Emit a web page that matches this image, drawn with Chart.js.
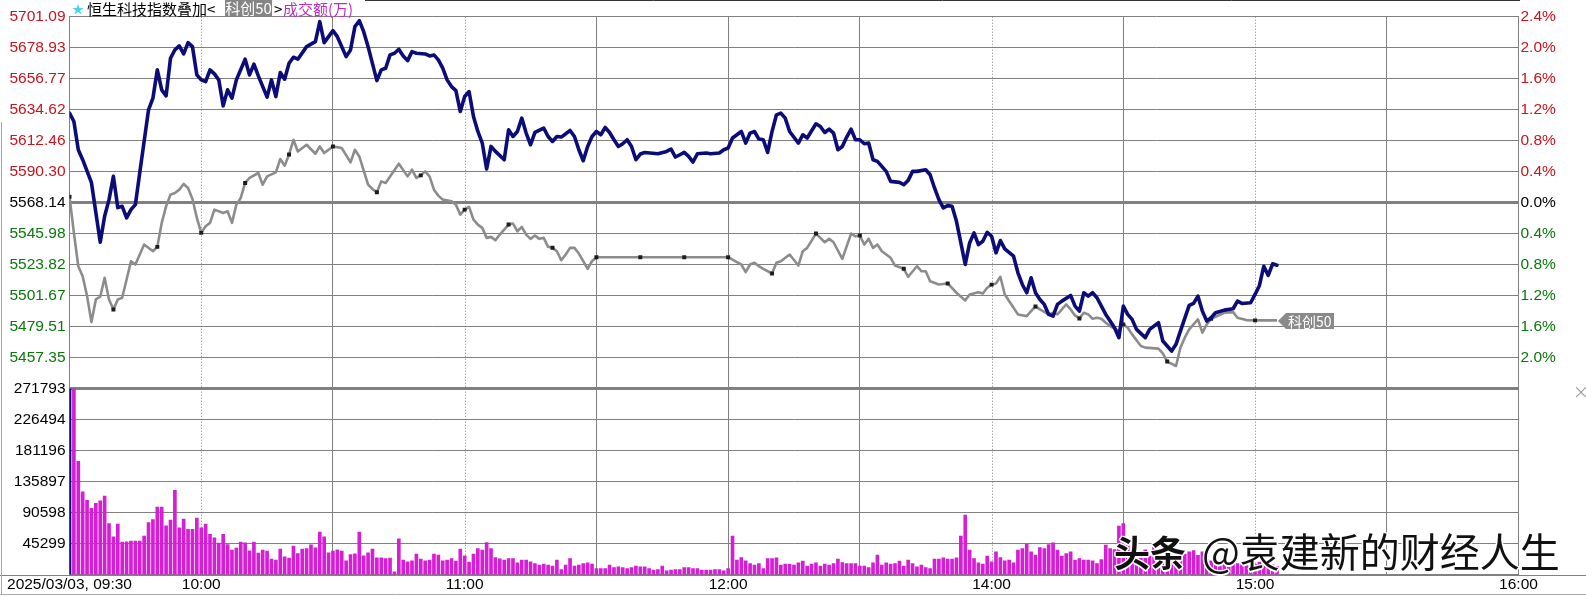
<!DOCTYPE html>
<html><head><meta charset="utf-8">
<script src="https://cdn.jsdelivr.net/npm/chart.js"></script>
<style>
html,body{margin:0;padding:0;background:#fff;}
#wrap{position:relative;width:1586px;height:596px;overflow:hidden;background:#fff;}
#c{position:absolute;left:0;top:0;}
.t{position:absolute;top:0;height:17px;line-height:17px;font-family:"Noto Sans CJK SC",sans-serif;font-size:15px;white-space:nowrap;color:#000;}
#wm{position:absolute;left:1114px;top:530px;font-family:"Noto Sans CJK SC",sans-serif;color:#111;white-space:nowrap;line-height:1;
 text-shadow:-1px -1px 0 #fff,1px -1px 0 #fff,-1px 1px 0 #fff,1px 1px 0 #fff,0 -1.5px 0 #fff,0 1.5px 0 #fff,-1.5px 0 0 #fff,1.5px 0 0 #fff;}
</style></head><body>
<div id="wrap">
<canvas id="c" width="1586" height="596"></canvas>
<div class="t" style="left:72px;font-size:12px;color:#48d4e4;">★</div>
<div class="t" style="left:87px;">恒生科技指数叠加&lt;</div>
<div class="t" style="left:225px;width:47px;height:16px;line-height:16px;background:#858585;color:#fff;text-align:center;">科创50</div>
<div class="t" style="left:274px;">&gt;</div>
<div class="t" style="left:283px;color:#c22cc2;">成交额(万)</div>
<div class="t" style="left:1573px;top:383px;color:#999;font-size:16px;">×</div>
<div id="wm"><span style="font-size:36px;font-weight:700;">头条</span><span style="font-size:40px;margin-left:16px;">@袁建新的财经人生</span></div>
</div>
<script>
// ---- data ----
const priceTicks = [5701.09,5678.93,5656.77,5634.62,5612.46,5590.30,5568.14,5545.98,5523.82,5501.67,5479.51,5457.35];
const pctLabels  = ['2.4%','2.0%','1.6%','1.2%','0.8%','0.4%','0.0%','0.4%','0.8%','1.2%','1.6%','2.0%'];
const priceBase = 5568.14;
const priceBottom = 5435.19;
const priceStep = 22.1575;
const volTicks = [271793,226494,181196,135897,90598,45299];
const xTickValues = [0,30,60,90,120,150,180,210,240,270,300,330];
const xTickText = ['2025/03/03, 09:30','10:00','','11:00','','12:00','','14:00','','15:00','','16:00'];
const hourTicks = [30,90,210,270];

// 恒生科技 (minute index from 09:30, lunch removed)
const blueMin = [0,1,2,3,5,7,8,9,10,11,12,13,14,15,16,18,19,20,21,22,23,24,25,26,27,28,29,30,31,32,33,34,35,36,37,38,40,41,42,43,45,46,47,48,49,50,51,52,54,56,57,58,60,61,63,64,65,66,67,68,70,71,72,73,74,75,76,77,78,79,81,82,83,84,85,86,87,88,89,90,91,92,93,94,95,96,97,99,100,101,102,103,104,105,106,108,109,110,111,112,114,115,116,117,118,119,120,121,122,123,124,125,126,127,128,129,130,131,134,136,137,138,139,140,141,142,143,145,146,148,149,150,151,153,154,155,156,157,158,159,160,161,162,163,164,166,167,168,170,171,172,173,174,175,176,177,178,179,180,181,182,183,184,185,186,187,189,190,191,192,193,195,196,197,198,199,200,201,202,203,204,205,206,207,208,209,210,211,212,213,215,216,217,218,219,220,221,222,223,224,225,226,228,229,230,231,232,233,234,236,237,238,239,240,241,242,243,245,246,248,249,251,252,253,255,256,257,258,259,260,261,263,265,266,267,269,270,271,272,273,274,275];
const bluePx = [5632.15,5626.16,5605.96,5598.82,5582.41,5539.81,5558.36,5570.28,5586.91,5564.57,5565.50,5557.22,5563.14,5566.71,5589.55,5634.50,5642.85,5663.05,5648.78,5644.50,5671.40,5677.32,5680.18,5674.47,5682.53,5679.68,5659.48,5655.91,5654.70,5663.05,5660.19,5655.91,5637.36,5648.78,5642.85,5655.91,5670.68,5659.48,5667.12,5658.77,5643.57,5655.91,5644.00,5661.12,5656.41,5667.83,5672.11,5670.68,5679.68,5683.24,5697.52,5682.53,5691.09,5686.81,5672.54,5677.32,5693.95,5698.23,5690.38,5679.68,5655.41,5663.05,5664.26,5673.75,5674.96,5677.82,5673.04,5669.69,5676.11,5674.96,5674.47,5673.04,5673.75,5670.18,5664.26,5655.91,5651.13,5648.28,5633.29,5644.00,5647.56,5629.72,5619.02,5610.74,5592.19,5608.32,5604.75,5598.82,5620.23,5615.45,5619.02,5628.58,5617.88,5609.53,5618.31,5621.45,5615.45,5611.88,5615.45,5615.02,5619.73,5615.45,5605.96,5598.11,5608.32,5615.45,5619.02,5616.66,5621.87,5618.31,5613.10,5608.32,5610.24,5613.10,5608.32,5598.82,5602.89,5604.03,5603.11,5604.75,5606.46,5600.75,5602.39,5604.03,5601.18,5597.18,5603.11,5603.61,5603.11,5603.61,5605.96,5607.17,5614.31,5619.02,5610.74,5617.88,5619.02,5613.60,5613.10,5604.03,5619.02,5630.94,5632.15,5628.58,5619.02,5610.74,5616.66,5614.31,5624.51,5622.59,5618.31,5620.73,5617.88,5605.96,5608.32,5615.02,5620.73,5613.10,5613.10,5610.24,5610.74,5598.82,5597.61,5594.04,5590.48,5583.34,5582.63,5580.98,5584.05,5590.48,5590.48,5591.69,5588.12,5578.63,5570.28,5564.36,5566.00,5565.50,5554.80,5539.38,5523.90,5539.38,5546.52,5538.17,5540.52,5546.95,5544.09,5532.25,5541.02,5535.10,5529.82,5517.97,5509.62,5503.70,5514.41,5503.70,5498.92,5495.35,5488.22,5487.00,5495.35,5497.71,5501.78,5494.14,5490.57,5503.70,5501.28,5503.70,5500.13,5488.22,5483.44,5478.73,5471.59,5494.14,5488.22,5484.65,5477.51,5471.59,5477.51,5482.29,5469.16,5462.03,5466.81,5476.30,5494.64,5496.07,5501.28,5490.57,5483.44,5485.86,5489.43,5491.29,5492.28,5497.71,5496.07,5496.57,5502.49,5508.91,5522.68,5516.05,5524.40,5523.40];

// 科创50 (same minute index, on price axis)
const grayMin = [0,1,2,3,4,5,6,7,8,9,10,11,12,13,14,15,17,19,20,21,22,23,24,25,26,27,28,29,30,31,32,33,35,36,37,38,39,40,41,43,44,45,47,48,49,50,51,52,54,56,57,58,60,62,64,65,66,68,69,70,71,72,75,77,78,79,80,81,82,83,84,85,87,88,89,90,91,92,93,94,95,96,97,98,100,101,102,103,104,105,106,107,108,109,110,111,112,113,114,115,116,117,118,119,120,130,140,150,152,153,154,155,156,157,158,160,161,162,164,166,167,168,170,171,172,173,174,176,178,179,180,181,182,183,184,185,187,188,190,191,193,194,195,196,198,200,202,204,205,207,208,209,210,211,212,213,215,216,218,219,220,221,223,224,225,227,228,229,230,231,232,233,234,235,236,237,239,240,241,242,244,245,248,249,250,252,253,254,255,257,258,259,260,263,265,266,268,270,275];
const grayPx = [5572.42,5546.52,5522.68,5515.55,5501.28,5482.72,5498.92,5500.85,5514.41,5498.92,5491.78,5498.92,5500.13,5513.19,5526.25,5523.90,5538.17,5533.39,5536.50,5553.65,5565.50,5573.85,5575.06,5577.42,5581.48,5578.63,5570.78,5557.22,5546.52,5551.23,5553.65,5563.14,5560.79,5561.93,5553.65,5566.71,5571.49,5582.20,5585.77,5589.33,5580.98,5586.91,5589.76,5599.32,5594.54,5602.50,5613.10,5604.75,5609.53,5603.11,5608.32,5603.61,5608.32,5607.17,5596.90,5605.96,5601.18,5580.98,5577.92,5575.49,5583.34,5582.20,5595.97,5586.91,5591.69,5585.77,5587.62,5590.48,5586.91,5577.42,5573.14,5570.28,5569.07,5566.71,5559.58,5563.14,5565.07,5556.01,5552.44,5550.09,5542.95,5543.66,5541.24,5545.30,5552.44,5553.15,5547.66,5550.80,5545.30,5542.24,5544.59,5542.24,5542.95,5536.53,5535.81,5533.39,5526.97,5531.03,5535.81,5535.81,5531.75,5526.25,5520.83,5526.25,5529.11,5529.11,5529.11,5529.11,5525.54,5523.90,5518.40,5523.90,5525.11,5522.68,5520.83,5517.47,5525.11,5526.25,5531.03,5523.18,5533.39,5535.81,5546.02,5542.95,5539.81,5542.24,5539.81,5527.96,5546.02,5544.09,5544.59,5538.17,5542.24,5535.81,5538.17,5533.39,5528.68,5523.18,5520.83,5515.12,5522.68,5519.12,5519.12,5511.98,5509.62,5510.34,5503.70,5498.21,5502.49,5504.13,5503.20,5507.27,5509.50,5510.34,5515.12,5502.49,5493.00,5488.22,5487.00,5490.57,5493.93,5491.78,5488.22,5489.43,5488.22,5495.35,5491.78,5487.50,5485.36,5489.43,5488.22,5485.15,5485.86,5485.15,5482.29,5479.87,5476.30,5481.08,5478.73,5473.94,5465.60,5464.45,5463.74,5460.39,5454.50,5451.32,5464.45,5471.59,5477.51,5484.65,5475.16,5481.08,5485.15,5489.43,5489.86,5485.86,5484.15,5483.94,5483.94];

// 成交额(万), one bar per minute
const volume = [
271793,271793,165600,120800,108600,96900,104200,107600,114500,74500,
55000,73600,47300,47700,48700,48700,48700,56000,76000,80400,
98400,98400,71100,79400,123200,68200,80900,66200,66200,82300,
68200,73600,58900,53600,45800,58900,43800,35600,38500,47300,
46300,34600,47300,31200,35600,34100,22400,20900,37000,25800,
23900,41400,30700,37000,38000,43300,39000,61900,55000,31700,
34100,36000,34100,20000,29200,30200,61900,27300,31700,37000,
24400,24400,23400,24000,3900,52000,20900,18500,20000,29700,
22400,20000,20900,29700,28300,20000,20900,23400,19500,37000,
27300,18000,29700,38000,35600,46800,38000,24800,22900,20900,
23400,23400,17000,20900,20900,18500,16100,13600,15100,13600,
12200,20900,7300,13600,23400,12200,13600,16100,17000,15100,
8800,8800,8800,13600,10200,11200,10200,8800,10200,12200,
11200,11200,8800,6300,7300,12200,5400,6300,7300,7300,
10200,10200,8800,8800,6300,6300,6300,7300,7300,5400,
8800,56000,20900,24800,20000,16100,13600,16100,8800,23400,
23400,24400,13600,15100,15000,13600,17000,19500,12200,15100,
17000,12200,15100,13600,16100,22400,17500,16100,16100,16100,
12200,12200,10200,17000,28300,13600,17000,15100,16100,19500,
12200,20900,16100,11200,13600,10200,8800,22400,22400,24400,
22400,22400,24400,56000,86700,35600,23400,17000,15100,26800,
18500,33100,24800,20000,20900,17000,35600,38000,44300,33100,
28300,39500,38000,43800,46300,35600,26800,30700,33100,20900,
23400,20900,20900,20000,16100,21900,42900,38000,36500,70600,
74500,48000,30000,25000,28000,36000,27000,40000,30000,28000,
25000,22000,26000,23000,30000,33000,35000,28000,33000,22000,
20000,18000,17000,20000,18000,15000,16000,14000,15000,13000,
15000,18000,20000,16000,14000,12000];

// ---- chart ----
const NAVY = '#0c0c78', MAG = '#d41fd4', GRID = '#808080', RED = '#c8141e', GREEN = '#0a780a';
const tickFont = {family: 'Liberation Sans', size: 15.5};
const priceColor = v => v > priceBase + 0.001 ? RED : (v < priceBase - 0.001 ? GREEN : '#000');

const decor = {
  id: 'decor',
  beforeDatasetsDraw(chart) {
    const {ctx, chartArea: a, scales: {x}} = chart;
    ctx.save();
    ctx.strokeStyle = GRID; ctx.lineWidth = 1; ctx.setLineDash([1, 2]);
    hourTicks.forEach(v => {
      const px = Math.round(x.getPixelForValue(v)) + 0.5;
      ctx.beginPath(); ctx.moveTo(px, a.top); ctx.lineTo(px, a.bottom); ctx.stroke();
    });
    ctx.restore();
  },
  afterDraw(chart) {
    const {ctx, chartArea: a, width, height} = chart;
    ctx.save();
    ctx.strokeStyle = GRID; ctx.lineWidth = 1;
    ctx.beginPath(); ctx.moveTo(0, Math.round(a.bottom) + 0.5); ctx.lineTo(width, Math.round(a.bottom) + 0.5); ctx.stroke();
    ctx.strokeStyle = '#a8a8a8';
    ctx.beginPath(); ctx.moveTo(0, height - 1.5); ctx.lineTo(width, height - 1.5); ctx.stroke();
    ctx.beginPath(); ctx.moveTo(1.5, 122); ctx.lineTo(1.5, height - 1); ctx.stroke();
    ctx.strokeStyle = '#333';
    ctx.beginPath(); ctx.moveTo(365, 0.5); ctx.lineTo(Math.round(a.right) + 1, 0.5); ctx.stroke();
    // end tag of 科创50
    const meta = chart.getDatasetMeta(1);
    const pt = meta.data[meta.data.length - 1];
    const x0 = pt.x + 1, y0 = Math.round(pt.y) + 1;
    ctx.fillStyle = '#8a8a8a';
    ctx.beginPath();
    ctx.moveTo(x0, y0); ctx.lineTo(x0 + 8, y0 - 8); ctx.lineTo(x0 + 56, y0 - 8);
    ctx.lineTo(x0 + 56, y0 + 8); ctx.lineTo(x0 + 8, y0 + 8); ctx.closePath(); ctx.fill();
    ctx.fillStyle = '#fff'; ctx.font = '14px "Noto Sans CJK SC"'; ctx.textBaseline = 'middle';
    ctx.fillText('科创50', x0 + 10, y0 + 0.5);
    ctx.restore();
  }
};

new Chart(document.getElementById('c'), {
  type: 'line',
  data: {
    datasets: [
      {
        type: 'line', label: '恒生科技指数',
        data: blueMin.map((m, i) => ({x: m, y: bluePx[i]})),
        xAxisID: 'x', yAxisID: 'yP',
        borderColor: NAVY, borderWidth: 3.6, pointRadius: 0, tension: 0,
        borderJoinStyle: 'round', borderCapStyle: 'round', order: 0
      },
      {
        type: 'line', label: '科创50',
        data: grayMin.map((m, i) => ({x: m, y: grayPx[i]})),
        xAxisID: 'x', yAxisID: 'yP',
        borderColor: '#8c8c8c', borderWidth: 2.6, tension: 0,
        borderJoinStyle: 'round',
        pointStyle: 'rect',
        pointRadius: c => (c.raw && c.raw.x % 10 === 0 && c.raw.x <= 270) ? 2.8 : 0,
        pointBackgroundColor: '#1c1c1c', pointBorderColor: '#1c1c1c', pointBorderWidth: 0,
        order: 1
      },
      {
        type: 'bar', label: '成交额(万)',
        data: volume.map((v, i) => ({x: i, y: v})),
        xAxisID: 'x', yAxisID: 'yV',
        backgroundColor: c => c.dataIndex === 0 ? NAVY : MAG,
        barThickness: 3, grouped: false, order: 2
      }
    ]
  },
  options: {
    responsive: false, animation: false, devicePixelRatio: 1,
    events: [],
    layout: {padding: {top: 16.7, left: 0, right: 0, bottom: 0}},
    plugins: {legend: {display: false}, tooltip: {enabled: false}},
    scales: {
      x: {
        type: 'linear', min: 0, max: 330, offset: false,
        afterBuildTicks: s => { s.ticks = xTickValues.map(v => ({value: v})); },
        afterFit: s => { s.height = 21.5; },
        grid: {offset: false, drawTicks: false, lineWidth: 1,
               color: c => (c.tick && hourTicks.includes(c.tick.value)) ? 'rgba(0,0,0,0)' : GRID},
        border: {display: true, color: GRID, width: 1},
        ticks: {autoSkip: false, maxRotation: 0, minRotation: 0, padding: 1, color: '#000', font: tickFont,
                callback: (v, i) => xTickText[i]}
      },
      yV: {
        type: 'linear', position: 'left', stack: 'L', stackWeight: 1,
        min: 0, max: volTicks[0],
        afterBuildTicks: s => { s.ticks = volTicks.slice().reverse().map(v => ({value: v})); },
        afterFit: s => { s.width = 69.5; },
        grid: {drawTicks: false, color: GRID, lineWidth: c => (c.tick && c.tick.value === volTicks[0]) ? 3 : 1},
        border: {display: true, color: GRID, width: 1},
        ticks: {autoSkip: false, padding: 4, font: tickFont, color: '#000', callback: v => String(v)}
      },
      yP: {
        type: 'linear', position: 'left', stack: 'L', stackWeight: 2,
        min: priceBottom, max: priceTicks[0],
        afterBuildTicks: s => { s.ticks = [priceBottom].concat(priceTicks.slice().reverse()).map(v => ({value: v})); },
        afterFit: s => { s.width = 69.5; },
        grid: {drawTicks: false, color: GRID,
               lineWidth: c => (c.tick && (Math.abs(c.tick.value - priceBase) < 0.001 || Math.abs(c.tick.value - priceBottom) < 0.001)) ? 3 : 1},
        border: {display: true, color: GRID, width: 1},
        ticks: {autoSkip: false, padding: 4, font: tickFont,
                color: c => priceColor(c.tick.value),
                callback: v => Math.abs(v - priceBottom) < 0.001 ? '' : v.toFixed(2)}
      },
      yR: {
        type: 'linear', position: 'right',
        min: priceTicks[0] - 18 * priceStep, max: priceTicks[0],
        afterBuildTicks: s => { s.ticks = priceTicks.slice().reverse().map(v => ({value: v})); },
        afterFit: s => { s.width = 67.5; },
        grid: {display: false, drawTicks: false},
        border: {display: true, color: GRID, width: 1},
        ticks: {autoSkip: false, padding: 2, font: tickFont,
                color: c => priceColor(c.tick.value),
                callback: v => pctLabels[priceTicks.findIndex(p => Math.abs(p - v) < 0.001)]}
      }
    }
  },
  plugins: [decor]
});
</script>
</body></html>
